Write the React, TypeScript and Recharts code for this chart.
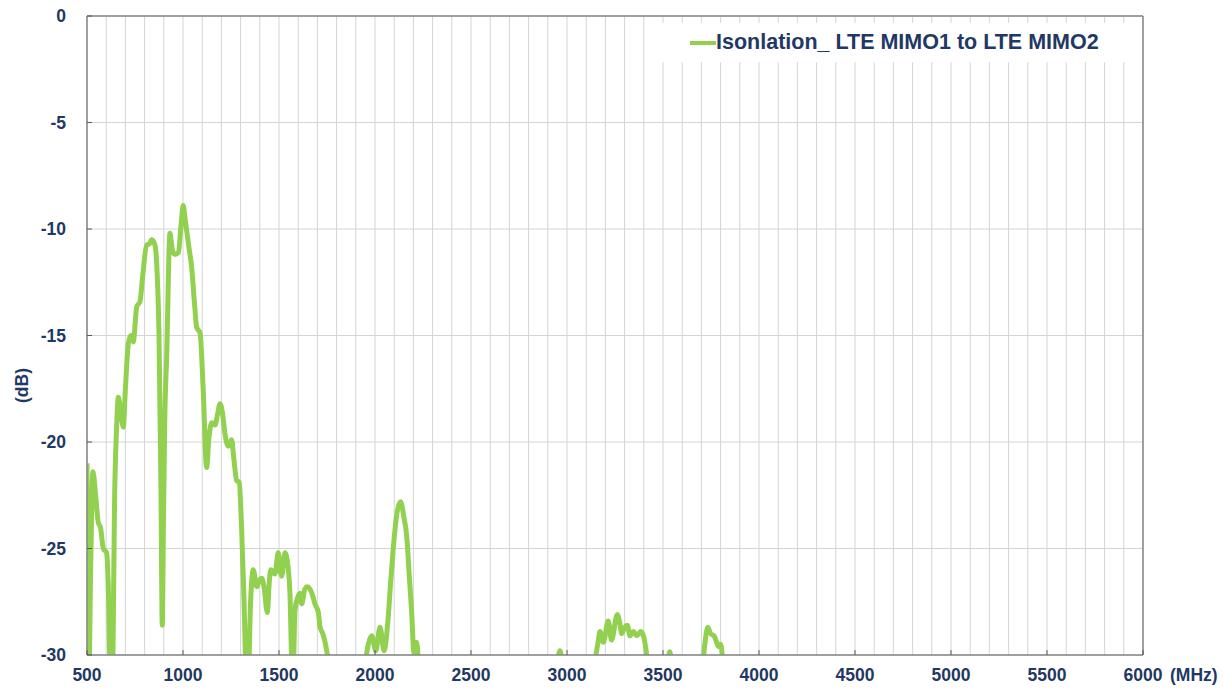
import React from 'react';
import { LineChart, Line, XAxis, YAxis, CartesianGrid, Legend, ReferenceLine, Label } from 'recharts';

const seriesName = 'Isonlation_ LTE MIMO1 to LTE MIMO2';

const freqMHz = [
  500, 509, 519, 531, 545, 559, 570, 585, 602, 610, 622, 632, 645, 655, 663, 672, 689, 700, 715, 728,
  741, 759, 776, 790, 811, 825, 837, 854, 865, 875, 885, 892, 898, 905, 915, 932, 945, 958, 976, 990,
  1001, 1012, 1030, 1045, 1060, 1071, 1089, 1105, 1123, 1135, 1150, 1167, 1180, 1193, 1205, 1220, 1236, 1253, 1265, 1279,
  1293, 1305, 1318, 1330, 1340, 1352, 1366, 1384, 1397, 1410, 1422, 1439, 1450, 1457, 1479, 1496, 1505, 1514, 1531, 1545,
  1557, 1568, 1575, 1583, 1597, 1609, 1618, 1635, 1648, 1661, 1675, 1687, 1705, 1714, 1728, 1740, 1757, 1775, 1900, 1950,
  1965, 1983, 2004, 2026, 2047, 2069, 2082, 2096, 2115, 2133, 2150, 2165, 2180, 2191, 2203, 2217, 2228, 2250, 2900, 2950,
  2963, 2976, 3000, 3100, 3140, 3160, 3172, 3189, 3215, 3232, 3262, 3275, 3285, 3300, 3314, 3328, 3346, 3363, 3384, 3401,
  3418, 3440, 3500, 3525, 3535, 3545, 3570, 3690, 3710, 3719, 3733, 3748, 3766, 3779, 3790, 3800, 3812, 3830, 4000, 5000,
  6000,
];

const isolationDb = [
  -21.0, -31.5, -26.0, -21.4, -22.5, -23.8, -24.0, -25.0, -25.2, -26.5, -31.0, -31.0, -22.0, -19.1, -17.9, -18.3, -19.3, -17.5, -15.4, -15.0,
  -15.3, -13.65, -13.4, -12.2, -10.75, -10.7, -10.5, -10.75, -12.0, -15.0, -22.0, -28.6, -24.0, -19.0, -16.0, -10.2, -11.0, -11.2, -11.1, -9.8,
  -8.9, -9.6, -10.8, -11.8, -13.5, -14.6, -14.9, -17.5, -21.2, -19.8, -19.1, -19.2, -18.7, -18.2, -18.6, -19.7, -20.2, -19.9, -20.8, -21.8,
  -21.9, -24.0, -27.5, -31.0, -31.0, -27.5, -26.0, -26.8, -26.5, -26.4, -26.8, -28.0, -26.5, -26.0, -26.2, -25.2, -26.0, -26.3, -25.2, -25.7,
  -27.1, -30.5, -30.5, -27.9, -27.3, -27.1, -27.6, -26.9, -26.8, -26.9, -27.2, -27.6, -28.0, -28.7, -29.0, -29.4, -30.3, -32.0, -32.0, -30.3,
  -29.5, -29.1, -29.8, -28.7, -29.8, -28.2, -26.5, -24.9, -23.3, -22.8, -23.5, -24.4, -26.5, -28.0, -29.9, -29.4, -30.5, -32.0, -32.0, -30.4,
  -29.8, -30.4, -32.0, -32.0, -30.5, -29.5, -28.9, -29.4, -28.4, -29.3, -28.1, -28.5, -29.0, -28.7, -28.6, -29.1, -28.9, -29.1, -28.9, -29.2,
  -30.2, -32.0, -32.0, -30.4, -29.85, -30.4, -32.0, -32.0, -30.2, -29.4, -28.7, -29.0, -29.1, -29.4, -29.6, -29.5, -30.3, -32.0, -33.0, -33.0,
  -33.0,
];

const xMajorTicks = [500, 1000, 1500, 2000, 2500, 3000, 3500, 4000, 4500, 5000, 5500, 6000];
const yTicks = [-30, -25, -20, -15, -10, -5, 0];
const xGridStep = 100;

const xGridTicks: number[] = [];
for (let v = xMajorTicks[0]; v <= xMajorTicks[xMajorTicks.length - 1]; v += xGridStep) xGridTicks.push(v);

const data = freqMHz.map((f, i) => ({ f, v: isolationDb[i] }));

const TEXT = '#1F3864';
const AXIS = '#868686';
const FONT = '"Liberation Sans", Arial, sans-serif';

const XTick = (props: any) => {
  const { x, y, payload } = props;
  if (!xMajorTicks.includes(payload.value)) return <g />;
  return (
    <g>
      <line x1={x} x2={x} y1={y} y2={y - 5} stroke="#595959" strokeWidth={1} />
      <text x={x} y={y + 26} textAnchor="middle" fill={TEXT} fontSize={17.5} fontWeight="bold" fontFamily={FONT}>
        {payload.value}
      </text>
    </g>
  );
};

const YTick = (props: any) => {
  const { x, y, payload } = props;
  return (
    <g>
      <line x1={x} x2={x + 5} y1={y} y2={y} stroke="#595959" strokeWidth={1} />
      <text x={x - 21} y={y + 6} textAnchor="end" fill={TEXT} fontSize={17.5} fontWeight="bold" fontFamily={FONT}>
        {payload.value}
      </text>
    </g>
  );
};

const MhzLabel = (props: any) => {
  const vb = props.viewBox || {};
  return (
    <text x={vb.x + vb.width + 27} y={vb.y + 26} fill={TEXT} fontSize={17.5} fontWeight="bold" fontFamily={FONT}>
      (MHz)
    </text>
  );
};

const DbLabel = (props: any) => {
  const vb = props.viewBox || {};
  const cx = vb.x + 22;
  const cy = vb.y + vb.height / 2 + 50;
  return (
    <text x={cx} y={cy} transform={`rotate(-90 ${cx} ${cy})`} textAnchor="middle" dominantBaseline="central" fill={TEXT} fontSize={17.5} fontWeight="bold" fontFamily={FONT}>
      (dB)
    </text>
  );
};

const LegendContent = () => (
  <div style={{ background: '#fff', display: 'flex', alignItems: 'center', height: 39, paddingLeft: 28, boxSizing: 'border-box' }}>
    <span style={{ display: 'inline-block', width: 26, height: 4, background: '#92D050' }} />
    <span style={{ color: TEXT, fontSize: 21.5, fontWeight: 'bold', fontFamily: FONT, whiteSpace: 'nowrap' }}>{seriesName}</span>
  </div>
);

export default function App() {
  return (
    <div style={{ position: 'absolute', left: 0, top: 0, width: 1225, height: 690, background: '#fff', fontFamily: FONT }}>
      <LineChart width={1225} height={690} data={data} margin={{ top: 16, right: 82, bottom: 0, left: 0 }}>
        <CartesianGrid stroke="#D4D4D4" strokeWidth={1} />
        <XAxis
          dataKey="f"
          type="number"
          domain={[500, 6000]}
          ticks={xGridTicks}
          interval={0}
          allowDataOverflow
          height={35}
          tickSize={0}
          tickMargin={0}
          tickLine={false}
          tick={<XTick />}
          axisLine={{ stroke: AXIS, strokeWidth: 1.5 }}
          label={<Label content={<MhzLabel />} />}
        />
        <YAxis
          type="number"
          domain={[-30, 0]}
          ticks={yTicks}
          interval={0}
          allowDataOverflow
          width={87}
          tickSize={0}
          tickMargin={0}
          tickLine={false}
          tick={<YTick />}
          axisLine={{ stroke: AXIS, strokeWidth: 1.5 }}
          label={<Label content={<DbLabel />} />}
        />
        <ReferenceLine y={0} stroke={AXIS} strokeWidth={1.5} />
        <ReferenceLine x={6000} stroke={AXIS} strokeWidth={1.5} />
        <Legend
          layout="horizontal"
          verticalAlign="middle"
          align="center"
          wrapperStyle={{ position: 'absolute', top: 23, left: 662, width: 470, height: 39 }}
          content={<LegendContent />}
        />
        <Line
          type="monotone"
          dataKey="v"
          name={seriesName}
          stroke="#92D050"
          strokeWidth={5}
          dot={false}
          activeDot={false}
          isAnimationActive={false}
        />
      </LineChart>
    </div>
  );
}
